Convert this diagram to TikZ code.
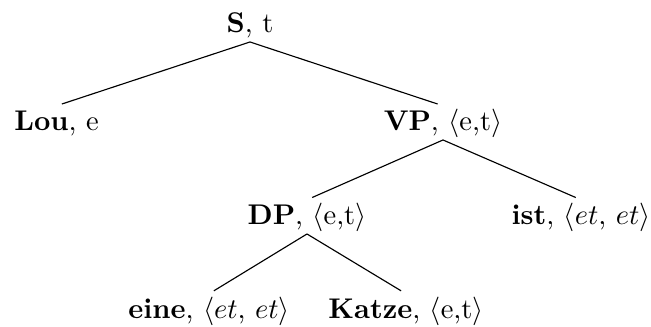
\documentclass[tikz,border=0pt]{standalone}
\begin{document}
\begin{tikzpicture}[x=0.351pt,y=-0.351pt,
  tnode/.style={inner sep=0pt,outer sep=1pt,text height=7.5pt,text depth=2.5pt,anchor=base},
  branch/.style={line width=0.4pt,shorten >=2pt}]
\useasboundingbox (0,0) rectangle (651,326);
\node[tnode] (S) at (250,32) {\textbf{S}, t};
\node[tnode] (Lou) at (56.5,130) {\textbf{Lou}, e};
\node[tnode] (VP) at (443,130) {\textbf{VP}, $\langle$e,t$\rangle$};
\node[tnode] (DP) at (307,224) {\textbf{DP}, $\langle$e,t$\rangle$};
\node[tnode] (ist) at (581,224) {\textbf{ist}, $\langle et$, $et\rangle$};
\node[tnode] (eine) at (209,318) {\textbf{eine}, $\langle et$, $et\rangle$};
\node[tnode] (Katze) at (406,318) {\textbf{Katze}, $\langle$e,t$\rangle$};
\draw[branch] (S.south) -- (Lou.north);
\draw[branch] (S.south) -- (VP.north);
\draw[branch] (VP.south) -- (DP.north);
\draw[branch] (VP.south) -- (ist.north);
\draw[branch] (DP.south) -- (eine.north);
\draw[branch] (DP.south) -- (Katze.north);
\end{tikzpicture}
\end{document}
